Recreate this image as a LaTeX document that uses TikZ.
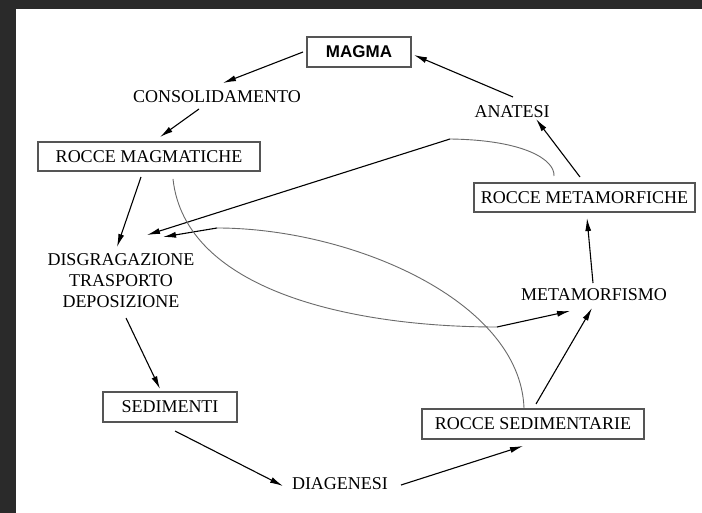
\documentclass[tikz,border=0pt]{standalone}
\usepackage{fontspec}
\setmainfont{Liberation Serif}
\newfontfamily\magmafont{Liberation Sans}
\usetikzlibrary{arrows.meta}
\definecolor{bgdark}{HTML}{2A2A2A}
\definecolor{boxgray}{HTML}{555555}
\definecolor{curvegray}{HTML}{6A6A6A}
\begin{document}
\begin{tikzpicture}[x=1pt,y=-1pt,
  box/.style={draw=boxgray, line width=1.1pt, inner sep=0pt, minimum height=29pt,
    font=\fontsize{18}{21}\selectfont},
  lbl/.style={inner sep=0pt, font=\fontsize{18}{21}\selectfont, align=center},
  arr/.style={line width=1.1pt, black, -{Latex[length=13pt,width=6pt]}},
  crv/.style={line width=0.9pt, curvegray},
]
\useasboundingbox (0,0) rectangle (702,513);
\fill[bgdark] (0,0) rectangle (702,513);
\fill[white] (16,9) rectangle (702,513);

% nodes
\node[box, minimum width=104pt, minimum height=30pt, line width=1.3pt,
      font=\magmafont\bfseries\fontsize{17}{20}\selectfont] (magma) at (359,52) {MAGMA};
\node[lbl] (consol) at (217,97) {CONSOLIDAMENTO};
\node[lbl] (anat) at (512,112) {ANATESI};
\node[box, minimum width=222pt] (rmag) at (149,156.5) {ROCCE MAGMATICHE};
\node[box, minimum width=221pt] (rmet) at (584.5,197.5) {ROCCE METAMORFICHE};
\node[lbl] (disg) at (121,281) {DISGRAGAZIONE\\TRASPORTO\\DEPOSIZIONE};
\node[lbl] (meta) at (594,295) {METAMORFISMO};
\node[box, minimum width=134pt, minimum height=30pt] (sed) at (170,407) {SEDIMENTI};
\node[lbl] (diag) at (340,484) {DIAGENESI};
\node[box, minimum width=222pt, minimum height=30pt] (rsed) at (533,424) {ROCCE SEDIMENTARIE};

% cycle arrows
\draw[arr] ([shift={(-56,0)}]magma.center) -- ([shift={(6,-14)}]consol.center);
\draw[arr] ([shift={(-18,12)}]consol.center) -- ([shift={(11,-19.5)}]rmag.center);
\draw[arr] ([shift={(-8,20.5)}]rmag.center) -- ([shift={(-4,-34)}]disg.center);
\draw[arr] ([shift={(5,37)}]disg.center) -- ([shift={(-10,-18)}]sed.center);
\draw[arr] ([shift={(5,24)}]sed.center) -- ([shift={(-57,2)}]diag.center);
\draw[arr] ([shift={(61,1)}]diag.center) -- ([shift={(-10,22)}]rsed.center);
\draw[arr] ([shift={(3,-20)}]rsed.center) -- ([shift={(-2,13)}]meta.center);
\draw[arr] ([shift={(-1,-12)}]meta.center) -- ([shift={(2.5,20.5)}]rmet.center);
\draw[arr] ([shift={(-4.5,-20.5)}]rmet.center) -- ([shift={(24,7)}]anat.center);
\draw[arr] ([shift={(1,-15)}]anat.center) -- ([shift={(55,3)}]magma.center);

% shortcut curves
\coordinate (ka) at (450,139);
\draw[crv] ([shift={(-30.5,-21.5)}]rmet.center) .. controls (555,160) and (525,140) .. (ka);
\draw[arr] (ka) -- ([shift={(26,-46)}]disg.center);

\coordinate (kb) at (217,228);
\draw[crv] ([shift={(-9,-16)}]rsed.center) .. controls (520,300) and (350,228) .. (kb);
\draw[arr] (kb) -- ([shift={(42,-44)}]disg.center);

\coordinate (kc) at (497,327);
\draw[crv] ([shift={(24,22.5)}]rmag.center) .. controls (185,290) and (350,327) .. (kc);
\draw[arr] (kc) -- ([shift={(-24,16)}]meta.center);
\end{tikzpicture}
\end{document}
